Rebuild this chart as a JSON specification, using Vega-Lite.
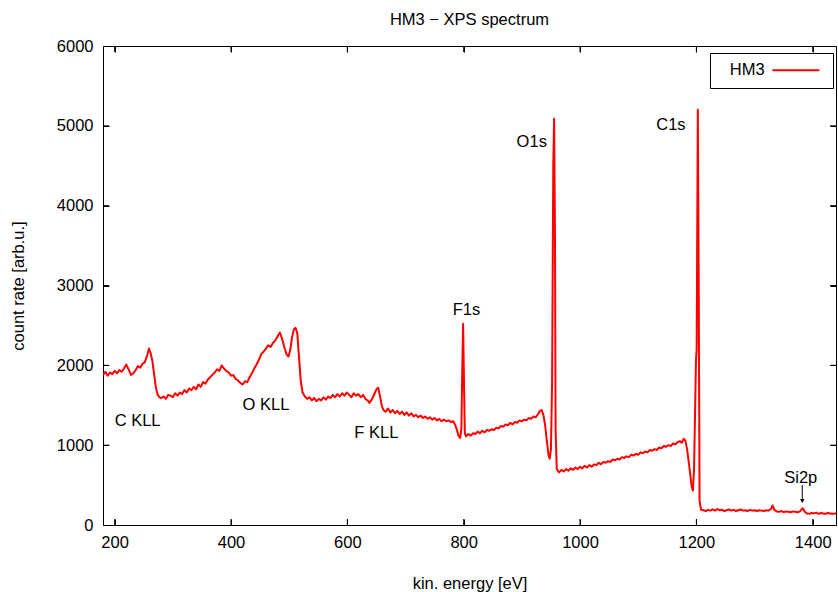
{
  "$schema": "https://vega.github.io/schema/vega-lite/v6.json",
  "width": 733,
  "height": 479,
  "autosize": {"type": "none"},
  "padding": {"left": 103, "top": 46, "right": 2, "bottom": 67},
  "background": "white",
  "title": {"text": "HM3 − XPS spectrum", "fontSize": 16.5, "fontWeight": "normal", "font": "Liberation Sans", "offset": 10, "color": "black"},
  "config": {
    "font": "Liberation Sans",
    "view": {"stroke": "black", "strokeWidth": 1},
    "axis": {"grid": false, "domain": false, "ticks": true, "tickColor": "black", "tickWidth": 1, "labelColor": "black", "titleColor": "black", "labelFont": "Liberation Sans", "titleFont": "Liberation Sans", "labelFontSize": 16.5, "titleFontSize": 16.5, "titleFontWeight": "normal", "tickSize": 6, "offset": -6},
    "legend": {"orient": "none", "legendX": 607, "legendY": 7, "strokeColor": "black", "padding": 9, "labelFont": "Liberation Sans", "labelFontSize": 16.5, "labelColor": "black", "symbolType": "M-4,0L4,0", "symbolSize": 138, "symbolStrokeWidth": 2, "labelOffset": -74.35, "symbolOffset": 68.6}
  },
  "datasets": {
    "spec": [
      {"e":180,"c":1880},{"e":184,"c":1920},{"e":188,"c":1870},{"e":192,"c":1910},{"e":196,"c":1890},{"e":200,"c":1930},{"e":204,"c":1900},{"e":208,"c":1940},{"e":212,"c":1920},{"e":216,"c":1960},{"e":220,"c":2010},{"e":224,"c":1950},{"e":228,"c":1880},{"e":232,"c":1900},{"e":236,"c":1940},{"e":240,"c":1990},{"e":244,"c":1970},{"e":248,"c":2020},{"e":252,"c":2040},{"e":256,"c":2130},{"e":259,"c":2210},{"e":262,"c":2150},{"e":265,"c":2050},{"e":268,"c":1880},{"e":271,"c":1720},{"e":274,"c":1630},{"e":277,"c":1600},
      {"e":280,"c":1590},{"e":284,"c":1610},{"e":288,"c":1580},{"e":292,"c":1630},{"e":296,"c":1620},{"e":300,"c":1600},{"e":304,"c":1650},{"e":308,"c":1620},{"e":312,"c":1660},{"e":316,"c":1640},{"e":320,"c":1690},{"e":324,"c":1660},{"e":328,"c":1710},{"e":332,"c":1690},{"e":336,"c":1730},{"e":340,"c":1700},{"e":344,"c":1760},{"e":348,"c":1730},{"e":352,"c":1790},{"e":356,"c":1770},{"e":360,"c":1820},{"e":364,"c":1850},{"e":368,"c":1880},{"e":372,"c":1910},{"e":376,"c":1950},{"e":380,"c":1930},{"e":384,"c":2000},{"e":388,"c":1960},{"e":392,"c":1930},{"e":396,"c":1910},{"e":400,"c":1870},{"e":404,"c":1880},{"e":408,"c":1830},{"e":412,"c":1810},{"e":416,"c":1780},{"e":420,"c":1760},{"e":424,"c":1800},{"e":428,"c":1790},{"e":432,"c":1850},{"e":436,"c":1900},{"e":440,"c":1960},{"e":444,"c":2010},{"e":448,"c":2070},{"e":452,"c":2140},{"e":456,"c":2170},{"e":460,"c":2210},{"e":464,"c":2250},{"e":468,"c":2230},{"e":472,"c":2280},{"e":476,"c":2310},{"e":480,"c":2360},{"e":484,"c":2410},{"e":488,"c":2330},{"e":492,"c":2220},{"e":496,"c":2130},{"e":499,"c":2110},{"e":502,"c":2200},{"e":505,"c":2350},{"e":508,"c":2450},{"e":511,"c":2470},{"e":514,"c":2400},{"e":517,"c":2100},{"e":520,"c":1800},{"e":523,"c":1660},
      {"e":527,"c":1610},{"e":531,"c":1580},{"e":535,"c":1600},{"e":539,"c":1560},{"e":543,"c":1590},{"e":547,"c":1550},{"e":551,"c":1580},{"e":555,"c":1560},{"e":559,"c":1600},{"e":563,"c":1570},{"e":567,"c":1610},{"e":571,"c":1590},{"e":575,"c":1630},{"e":579,"c":1600},{"e":583,"c":1640},{"e":587,"c":1610},{"e":591,"c":1650},{"e":595,"c":1620},{"e":599,"c":1660},{"e":603,"c":1630},{"e":607,"c":1600},{"e":611,"c":1650},{"e":615,"c":1620},{"e":619,"c":1640},{"e":623,"c":1600},{"e":627,"c":1630},{"e":631,"c":1580},{"e":635,"c":1560},{"e":638,"c":1530},{"e":641,"c":1560},{"e":644,"c":1600},{"e":647,"c":1650},{"e":650,"c":1700},{"e":653,"c":1720},{"e":656,"c":1620},{"e":659,"c":1500},{"e":662,"c":1440},
      {"e":666,"c":1420},{"e":670,"c":1460},{"e":674,"c":1410},{"e":678,"c":1440},{"e":682,"c":1400},{"e":686,"c":1430},{"e":690,"c":1390},{"e":694,"c":1420},{"e":698,"c":1380},{"e":702,"c":1410},{"e":706,"c":1370},{"e":710,"c":1400},{"e":714,"c":1360},{"e":718,"c":1380},{"e":722,"c":1350},{"e":726,"c":1370},{"e":730,"c":1340},{"e":734,"c":1360},{"e":738,"c":1330},{"e":742,"c":1350},{"e":746,"c":1320},{"e":750,"c":1340},{"e":754,"c":1310},{"e":758,"c":1330},{"e":762,"c":1300},{"e":766,"c":1320},{"e":770,"c":1300},{"e":774,"c":1310},{"e":778,"c":1290},{"e":782,"c":1300},{"e":785,"c":1260},{"e":788,"c":1200},{"e":791,"c":1120},{"e":794,"c":1090},{"e":796,"c":1200},{"e":797.5,"c":1900},{"e":799,"c":2520},{"e":800.5,"c":1800},{"e":802,"c":1150},{"e":804,"c":1110},
      {"e":808,"c":1140},{"e":812,"c":1120},{"e":816,"c":1150},{"e":820,"c":1140},{"e":824,"c":1170},{"e":828,"c":1150},{"e":832,"c":1180},{"e":836,"c":1160},{"e":840,"c":1190},{"e":844,"c":1180},{"e":848,"c":1200},{"e":852,"c":1190},{"e":856,"c":1220},{"e":860,"c":1210},{"e":864,"c":1240},{"e":868,"c":1230},{"e":872,"c":1260},{"e":876,"c":1250},{"e":880,"c":1280},{"e":884,"c":1260},{"e":888,"c":1290},{"e":892,"c":1280},{"e":896,"c":1310},{"e":900,"c":1300},{"e":904,"c":1320},{"e":908,"c":1310},{"e":912,"c":1340},{"e":916,"c":1330},{"e":920,"c":1360},{"e":924,"c":1350},{"e":928,"c":1390},{"e":931,"c":1430},{"e":934,"c":1440},{"e":937,"c":1380},{"e":940,"c":1250},{"e":943,"c":1050},{"e":946,"c":870},{"e":948,"c":830},{"e":950,"c":950},{"e":952,"c":1800},{"e":954,"c":4500},{"e":955.5,"c":5090},{"e":957,"c":3500},{"e":958,"c":1200},{"e":960,"c":700},
      {"e":964,"c":660},{"e":968,"c":690},{"e":972,"c":670},{"e":976,"c":700},{"e":980,"c":680},{"e":984,"c":710},{"e":988,"c":690},{"e":992,"c":720},{"e":996,"c":700},{"e":1000,"c":730},{"e":1004,"c":710},{"e":1008,"c":740},{"e":1012,"c":720},{"e":1016,"c":750},{"e":1020,"c":730},{"e":1024,"c":760},{"e":1028,"c":750},{"e":1032,"c":780},{"e":1036,"c":760},{"e":1040,"c":790},{"e":1044,"c":780},{"e":1048,"c":800},{"e":1052,"c":790},{"e":1056,"c":820},{"e":1060,"c":810},{"e":1064,"c":830},{"e":1068,"c":820},{"e":1072,"c":850},{"e":1076,"c":840},{"e":1080,"c":860},{"e":1084,"c":850},{"e":1088,"c":880},{"e":1092,"c":870},{"e":1096,"c":890},{"e":1100,"c":880},{"e":1104,"c":910},{"e":1108,"c":900},{"e":1112,"c":920},{"e":1116,"c":910},{"e":1120,"c":940},{"e":1124,"c":930},{"e":1128,"c":950},{"e":1132,"c":940},{"e":1136,"c":970},{"e":1140,"c":960},{"e":1144,"c":990},{"e":1148,"c":980},{"e":1152,"c":1000},{"e":1156,"c":990},{"e":1160,"c":1020},{"e":1164,"c":1010},{"e":1168,"c":1040},{"e":1172,"c":1050},{"e":1175,"c":1030},{"e":1178,"c":1080},{"e":1181,"c":1060},{"e":1184,"c":950},{"e":1187,"c":780},{"e":1190,"c":600},{"e":1192,"c":480},{"e":1194,"c":430},{"e":1196,"c":700},{"e":1199.3,"c":2060},{"e":1200.5,"c":2200},{"e":1202.5,"c":5200},{"e":1204,"c":3000},{"e":1205.5,"c":300},{"e":1208,"c":190},
      {"e":1212,"c":185},{"e":1216,"c":175},{"e":1220,"c":190},{"e":1224,"c":180},{"e":1228,"c":195},{"e":1232,"c":180},{"e":1236,"c":200},{"e":1240,"c":185},{"e":1244,"c":190},{"e":1248,"c":175},{"e":1252,"c":185},{"e":1256,"c":195},{"e":1260,"c":180},{"e":1264,"c":190},{"e":1268,"c":175},{"e":1272,"c":185},{"e":1276,"c":195},{"e":1280,"c":180},{"e":1284,"c":185},{"e":1288,"c":175},{"e":1292,"c":190},{"e":1296,"c":180},{"e":1300,"c":185},{"e":1304,"c":175},{"e":1308,"c":185},{"e":1312,"c":180},{"e":1316,"c":175},{"e":1320,"c":185},{"e":1324,"c":180},{"e":1328,"c":200},{"e":1331,"c":245},{"e":1334,"c":190},{"e":1338,"c":170},{"e":1342,"c":165},{"e":1346,"c":175},{"e":1350,"c":160},{"e":1354,"c":170},{"e":1358,"c":165},{"e":1362,"c":160},{"e":1366,"c":170},{"e":1370,"c":165},{"e":1374,"c":160},{"e":1378,"c":170},{"e":1381,"c":195},{"e":1383,"c":210},{"e":1386,"c":170},{"e":1390,"c":145},{"e":1394,"c":140},{"e":1398,"c":150},{"e":1402,"c":145},{"e":1406,"c":155},{"e":1410,"c":140},{"e":1414,"c":150},{"e":1418,"c":145},{"e":1422,"c":140},{"e":1426,"c":150},{"e":1430,"c":145},{"e":1434,"c":140},{"e":1438,"c":145},{"e":1440,"c":140}
    ],
    "labels": [
      {"t":"C KLL","x":200,"y":1300},
      {"t":"O KLL","x":420,"y":1500},
      {"t":"F KLL","x":612,"y":1150},
      {"t":"F1s","x":781,"y":2690},
      {"t":"O1s","x":891,"y":4800},
      {"t":"C1s","x":1131,"y":5010},
      {"t":"Si2p","x":1351,"y":594}
    ],
    "arrow": [{"x":1382,"y1":500,"y2":300}],
    "xticks": [{"v":200},{"v":400},{"v":600},{"v":800},{"v":1000},{"v":1200},{"v":1400}],
    "yticks": [{"v":1000},{"v":2000},{"v":3000},{"v":4000},{"v":5000}]
  },
  "layer": [
    {
      "data": {"name": "spec"},
      "transform": [{"calculate": "'HM3'", "as": "series"}],
      "mark": {"type": "line", "strokeWidth": 2, "clip": true, "strokeJoin": "round"},
      "encoding": {
        "x": {"field": "e", "type": "quantitative", "scale": {"domain": [180, 1440], "nice": false, "zero": false}, "axis": {"orient": "bottom", "title": "kin. energy [eV]", "tickCount": 7, "format": "d", "labelPadding": 9, "titlePadding": 25}},
        "y": {"field": "c", "type": "quantitative", "scale": {"domain": [0, 6000], "nice": false}, "axis": {"orient": "left", "title": "count rate [arb.u.]", "tickCount": 6, "format": "d", "labelPadding": 10, "titlePadding": 30}},
        "color": {"field": "series", "type": "nominal", "scale": {"range": ["#ff0000"]}, "legend": {"title": null}}
      }
    },
    {
      "data": {"name": "labels"},
      "mark": {"type": "text", "align": "left", "baseline": "middle", "fontSize": 16.5, "font": "Liberation Sans", "color": "black"},
      "encoding": {
        "x": {"field": "x", "type": "quantitative", "axis": {"orient": "top", "labels": false, "title": null, "tickCount": 7}},
        "y": {"field": "y", "type": "quantitative", "axis": {"orient": "right", "labels": false, "title": null, "tickCount": 6}},
        "text": {"field": "t"}
      }
    },
    {
      "data": {"name": "xticks"},
      "mark": {"type": "tick", "orient": "vertical", "size": 6, "thickness": 1, "color": "black", "opacity": 1, "yOffset": -3},
      "encoding": {
        "x": {"field": "v", "type": "quantitative", "axis": null},
        "y": {"datum": 0, "type": "quantitative", "axis": null}
      }
    },
    {
      "data": {"name": "xticks"},
      "mark": {"type": "tick", "orient": "vertical", "size": 6, "thickness": 1, "color": "black", "opacity": 1, "yOffset": 3},
      "encoding": {
        "x": {"field": "v", "type": "quantitative", "axis": null},
        "y": {"datum": 6000, "type": "quantitative", "axis": null}
      }
    },
    {
      "data": {"name": "yticks"},
      "mark": {"type": "tick", "orient": "horizontal", "size": 6, "thickness": 1, "color": "black", "opacity": 1, "xOffset": 3},
      "encoding": {
        "y": {"field": "v", "type": "quantitative", "axis": null},
        "x": {"datum": 180, "type": "quantitative", "axis": null}
      }
    },
    {
      "data": {"name": "yticks"},
      "mark": {"type": "tick", "orient": "horizontal", "size": 6, "thickness": 1, "color": "black", "opacity": 1, "xOffset": -3},
      "encoding": {
        "y": {"field": "v", "type": "quantitative", "axis": null},
        "x": {"datum": 1440, "type": "quantitative", "axis": null}
      }
    },
    {
      "data": {"name": "arrow"},
      "mark": {"type": "rule", "color": "black", "strokeWidth": 1},
      "encoding": {
        "x": {"field": "x", "type": "quantitative", "axis": null},
        "y": {"field": "y1", "type": "quantitative", "axis": null},
        "y2": {"field": "y2"}
      }
    },
    {
      "data": {"name": "arrow"},
      "mark": {"type": "point", "shape": "triangle-down", "filled": true, "color": "black", "size": 20, "opacity": 1},
      "encoding": {
        "x": {"field": "x", "type": "quantitative", "axis": null},
        "y": {"field": "y2", "type": "quantitative", "axis": null}
      }
    }
  ],
  "resolve": {"axis": {"x": "independent", "y": "independent"}}
}
